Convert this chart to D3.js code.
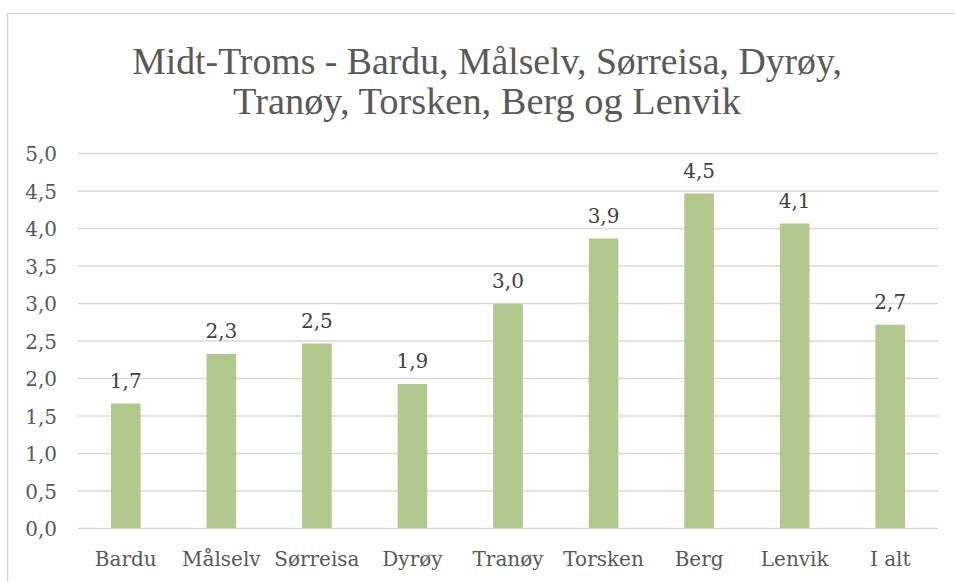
<!DOCTYPE html>
<html>
<head>
<meta charset="utf-8">
<script src="https://cdn.jsdelivr.net/npm/d3@7"></script>
<style>
  html, body { margin: 0; padding: 0; background: #ffffff; }
  svg { display: block; }
  text { font-family: "Liberation Serif", "DejaVu Serif", serif; }
</style>
</head>
<body>
<svg id="chart" width="955" height="582"></svg>
<script>
// Municipalities in Midt-Troms plus the combined total
const categories = ["Bardu", "Målselv", "Sørreisa", "Dyrøy", "Tranøy", "Torsken", "Berg", "Lenvik", "I alt"];
const values = [1.66, 2.32, 2.46, 1.92, 2.99, 3.86, 4.46, 4.06, 2.71];
const yTicks = [0, 0.5, 1, 1.5, 2, 2.5, 3, 3.5, 4, 4.5, 5];
const titleLines = ["Midt-Troms - Bardu, Målselv, Sørreisa, Dyrøy,", "Tranøy, Torsken, Berg og Lenvik"];

const plot = { left: 78, right: 938, top: 153, bottom: 528 };
const labelFont = "'DejaVu Serif', serif";
const labelSize = "20px";
const fmt = v => d3.format(".1f")(v).replace(".", ",");

const svg = d3.select("#chart");

// Chart area frame
svg.append("rect")
  .attr("x", 7.5).attr("y", 13.5)
  .attr("width", 980).attr("height", 620)
  .attr("fill", "#ffffff")
  .attr("stroke", "#d9d9d9").attr("stroke-width", 1.5);

const x = d3.scaleBand()
  .domain(categories)
  .range([plot.left, plot.right])
  .paddingInner(0.69).paddingOuter(0.345);

const y = d3.scaleLinear().domain([0, 5]).range([plot.bottom, plot.top]);

// Horizontal gridlines with value ticks
const yAxis = d3.axisLeft(y)
  .tickValues(yTicks)
  .tickSize(-(plot.right - plot.left))
  .tickPadding(21)
  .tickFormat(fmt);

const gy = svg.append("g")
  .attr("transform", `translate(${plot.left},0)`)
  .call(yAxis);
gy.select(".domain").remove();
gy.selectAll(".tick line").attr("stroke", "#d9d9d9").attr("stroke-width", 1.3);
gy.selectAll(".tick text")
  .attr("fill", "#595959")
  .attr("dy", "0.38em")
  .style("font-size", labelSize)
  .style("font-family", labelFont);

// Category axis
const xAxis = d3.axisBottom(x).tickSize(0).tickPadding(24);
const gx = svg.append("g")
  .attr("transform", `translate(0,${plot.bottom})`)
  .call(xAxis);
gx.select(".domain").remove();
gx.selectAll(".tick text")
  .attr("fill", "#595959")
  .style("font-size", labelSize)
  .style("font-family", labelFont);

// Bars
svg.append("g").selectAll("rect")
  .data(values)
  .join("rect")
  .attr("x", (d, i) => x(categories[i]))
  .attr("y", d => y(d))
  .attr("width", x.bandwidth())
  .attr("height", d => y(0) - y(d))
  .attr("fill", "#b3c88c");

// Value labels above the bars
svg.append("g").selectAll("text")
  .data(values)
  .join("text")
  .attr("x", (d, i) => x(categories[i]) + x.bandwidth() / 2)
  .attr("y", d => y(d) - 16)
  .attr("text-anchor", "middle")
  .attr("fill", "#404040")
  .style("font-size", labelSize)
  .style("font-family", labelFont)
  .text(d => fmt(d));

// Title, two centred lines
const title = svg.append("g").attr("fill", "#595959");
const titleWidths = [710, 508];
titleLines.forEach((line, i) => {
  const t = title.append("text")
    .attr("x", 0).attr("y", 0)
    .attr("text-anchor", "middle")
    .style("font-size", "38px")
    .text(line);
  const w = t.node().getComputedTextLength();
  const sx = titleWidths[i] / w;
  t.attr("transform", `translate(${487},${74 + i * 40}) scale(${sx},1)`);
});
</script>
</body>
</html>
